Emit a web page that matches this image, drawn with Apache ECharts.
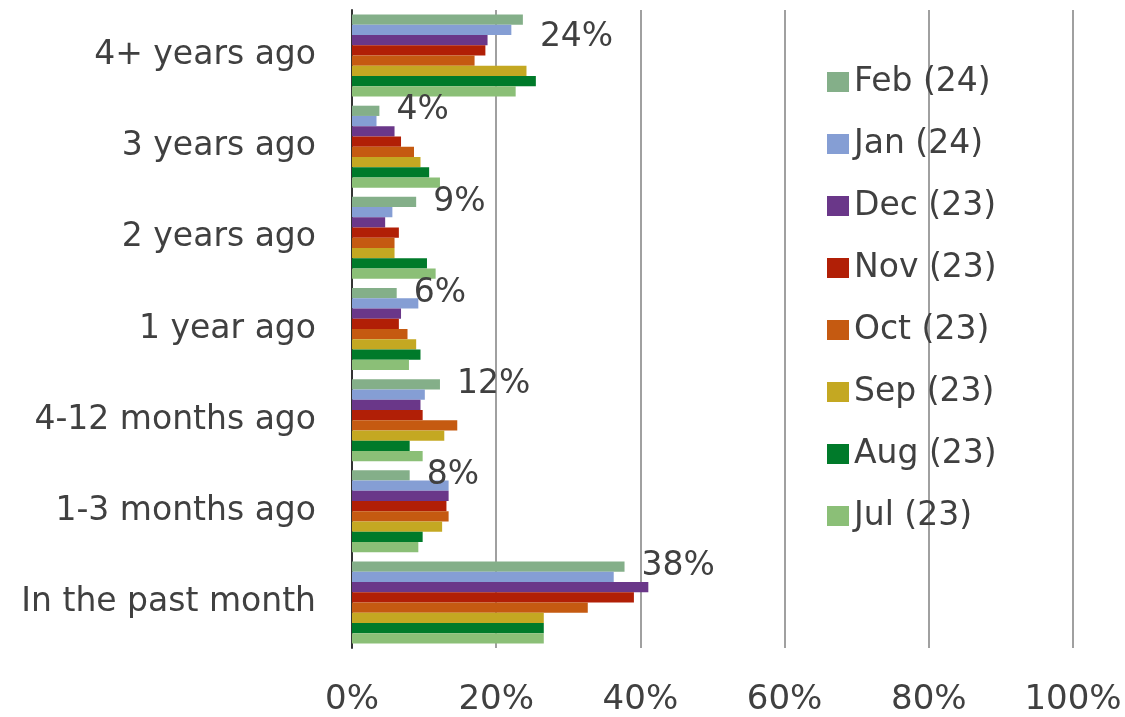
<!DOCTYPE html>
<html>
<head>
<meta charset="utf-8">
<script src="https://cdn.jsdelivr.net/npm/echarts@6/dist/echarts.min.js"></script>
<style>
  html, body { margin: 0; padding: 0; background: #fff; }
  #chart { width: 1125px; height: 717px; }
</style>
</head>
<body>
<div id="chart"></div>
<script>
// categories, top to bottom
const categories = ['4+ years ago', '3 years ago', '2 years ago', '1 year ago', '4-12 months ago', '1-3 months ago', 'In the past month'];
const seriesNames = ['Feb (24)', 'Jan (24)', 'Dec (23)', 'Nov (23)', 'Oct (23)', 'Sep (23)', 'Aug (23)', 'Jul (23)'];
const xTicks = [0, 20, 40, 60, 80, 100];

// values in %, one array per month
const feb24 = [23.7, 3.8, 8.9, 6.2, 12.2, 8.0, 37.8];
const jan24 = [22.1, 3.4, 5.6, 9.2, 10.1, 13.4, 36.3];
const dec23 = [18.8, 5.9, 4.6, 6.8, 9.5, 13.4, 41.1];
const nov23 = [18.5, 6.8, 6.5, 6.5, 9.8, 13.1, 39.1];
const oct23 = [17.0, 8.6, 5.9, 7.7, 14.6, 13.4, 32.7];
const sep23 = [24.2, 9.5, 5.9, 8.9, 12.8, 12.5, 26.6];
const aug23 = [25.5, 10.7, 10.4, 9.5, 8.0, 9.8, 26.6];
const jul23 = [22.7, 12.2, 11.6, 7.9, 9.8, 9.2, 26.6];

const allValues = [feb24, jan24, dec23, nov23, oct23, sep23, aug23, jul23];
const colors = ['#84af89', '#859ed4', '#6a3789', '#b11f06', '#c55a11', '#c4a822', '#007a2a', '#8bbf77'];

const font = 'DejaVu Sans';

const chart = echarts.init(document.getElementById('chart'));

const series = seriesNames.map((name, i) => {
  const s = {
    name: name,
    type: 'bar',
    barGap: '0%',
    barCategoryGap: '10%',
    itemStyle: { color: colors[i] },
    data: allValues[i]
  };
  if (i === 0) {
    // only the latest month carries labels
    s.data = allValues[i].map((v, j) => ({
      value: v,
      label: j === 0 ? { offset: [0, 18] } : {}
    }));
    s.label = {
      show: true,
      position: 'right',
      distance: 17,
      fontFamily: font,
      fontSize: 33,
      color: '#404040',
      formatter: p => Math.round(p.value) + '%'
    };
  }
  return s;
});

chart.setOption({
  animation: false,
  color: colors,
  grid: { left: 352, right: 52, top: 10, bottom: 69 },
  legend: {
    orient: 'vertical',
    left: 822,
    top: 60,
    itemWidth: 22,
    itemHeight: 20,
    itemGap: 28,
    icon: 'rect',
    textStyle: { fontFamily: font, fontSize: 33, lineHeight: 34, color: '#404040' },
    data: seriesNames
  },
  xAxis: {
    type: 'value',
    min: xTicks[0],
    max: xTicks[xTicks.length - 1],
    interval: 20,
    axisLine: { show: false },
    axisTick: { show: false },
    splitLine: { show: true, lineStyle: { color: '#a0a0a0', width: 2 } },
    axisLabel: {
      margin: 35,
      fontFamily: font,
      fontSize: 34,
      color: '#404040',
      formatter: '{value}%'
    }
  },
  yAxis: {
    type: 'category',
    inverse: true,
    data: categories,
    axisLine: { show: true, lineStyle: { color: '#333', width: 2 } },
    axisTick: { show: false },
    axisLabel: { margin: 36, fontFamily: font, fontSize: 33, color: '#404040' }
  },
  series: series
});
</script>
</body>
</html>
